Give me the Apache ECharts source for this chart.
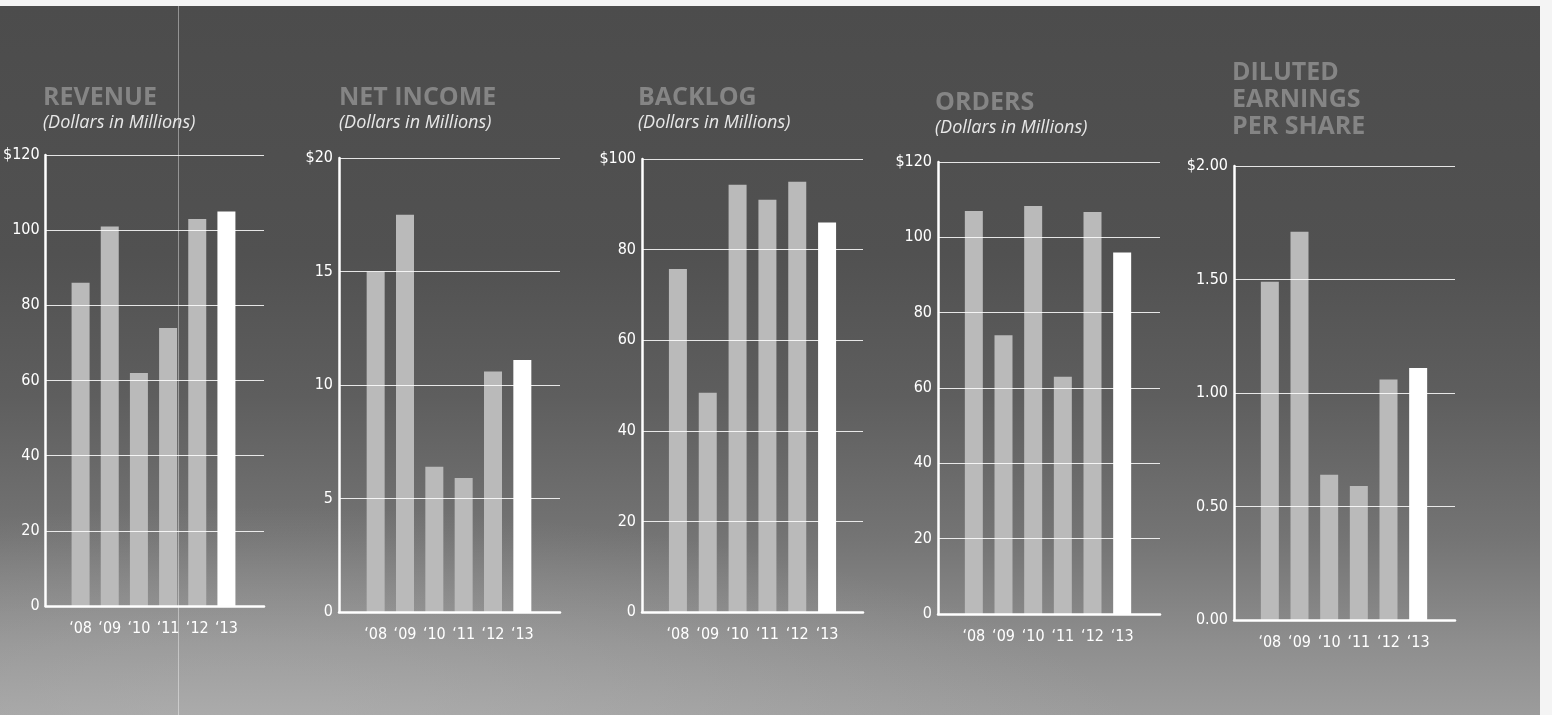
<!DOCTYPE html>
<html>
<head>
<meta charset="utf-8">
<script src="https://cdn.jsdelivr.net/npm/echarts@6/dist/echarts.min.js"></script>
<style>
  html, body { margin: 0; padding: 0; background: #f4f4f4; }
  #wrap { position: relative; width: 1552px; height: 715px; overflow: hidden; background: #f4f4f4; }
  #bg {
    position: absolute; left: 0; top: 6px; width: 1540px; height: 709px;
    background:
      radial-gradient(ellipse 900px 260px at 250px 760px, rgba(190,190,190,0.55), rgba(190,190,190,0) 100%),
      linear-gradient(180deg, #4c4c4c 0%, #515151 35%, #5e5e5e 55%, #747474 75%, #8e8e8e 90%, #9c9c9c 100%);
  }
  #streak { position: absolute; left: 178px; top: 6px; width: 1px; height: 709px; background: rgba(255,255,255,0.4); }
  #chart { position: absolute; left: 0; top: 0; width: 1552px; height: 715px; }
</style>
</head>
<body>
<div id="wrap">
  <div id="bg"></div>
  <div id="streak"></div>
  <div id="chart"></div>
</div>
<script>
// ---- data ----
const years = ['\u201808', '\u201809', '\u201810', '\u201811', '\u201812', '\u201813'];
const revenue = [86, 101, 62, 74, 103, 105];
const netIncome = [15.0, 17.5, 6.4, 5.9, 10.6, 11.1];
const backlog = [75.7, 48.4, 94.3, 91, 95, 86];
const orders = [107, 74, 108.3, 63, 106.7, 96];
const eps = [1.49, 1.71, 0.64, 0.59, 1.06, 1.11];

const revenueTicks = ['0', '20', '40', '60', '80', '100', '$120'];
const netIncomeTicks = ['0', '5', '10', '15', '$20'];
const backlogTicks = ['0', '20', '40', '60', '80', '$100'];
const ordersTicks = ['0', '20', '40', '60', '80', '100', '$120'];
const epsTicks = ['0.00', '0.50', '1.00', '1.50', '$2.00'];

const titles = ['REVENUE', 'NET INCOME', 'BACKLOG', 'ORDERS', 'DILUTED\nEARNINGS\nPER SHARE'];
const subtitle = '(Dollars in Millions)';

// ---- layout ----
const panels = [
  { data: revenue,   ticks: revenueTicks,   max: 120, interval: 20,  axisX: 44,   right: 264,  top: 155, bottom: 606, barLeft: 66,   barW: 175, titleX: 43,   titleY: 84, subY: 114, sub: true },
  { data: netIncome, ticks: netIncomeTicks, max: 20,  interval: 5,   axisX: 339,  right: 560,  top: 158, bottom: 612, barLeft: 361,  barW: 176, titleX: 339,  titleY: 84, subY: 114, sub: true },
  { data: backlog,   ticks: backlogTicks,   max: 100, interval: 20,  axisX: 642,  right: 863,  top: 159, bottom: 612, barLeft: 663,  barW: 179, titleX: 638,  titleY: 84, subY: 114, sub: true },
  { data: orders,    ticks: ordersTicks,    max: 120, interval: 20,  axisX: 938,  right: 1160, top: 162, bottom: 614, barLeft: 959,  barW: 178, titleX: 935,  titleY: 89, subY: 119, sub: true },
  { data: eps,       ticks: epsTicks,       max: 2,   interval: 0.5, axisX: 1234, right: 1455, top: 166, bottom: 620, barLeft: 1255, barW: 178, titleX: 1232, titleY: 59, subY: 0,   sub: false }
];

const labelFont = '"Liberation Sans Narrow", "Arial Narrow", "DejaVu Sans Condensed", "Roboto", sans-serif';
const grid = [], xAxis = [], yAxis = [], series = [], title = [];

panels.forEach((p, i) => {
  const h = p.bottom - p.top;
  grid.push({ left: p.axisX, top: p.top, width: p.right - p.axisX, height: h, containLabel: false });
  grid.push({ left: p.barLeft, top: p.top, width: p.barW, height: h, containLabel: false });
  const gA = 2 * i, gB = 2 * i + 1;

  xAxis.push({
    gridIndex: gA, type: 'value', min: 0, max: 1, z: 4,
    axisLine: { show: true, onZero: false, lineStyle: { color: '#ffffff', width: 2.5 } },
    axisTick: { show: false }, axisLabel: { show: false }, splitLine: { show: false }
  });
  xAxis.push({
    gridIndex: gB, type: 'category', data: years,
    axisLine: { show: false }, axisTick: { show: false },
    axisLabel: { interval: 0, color: '#ffffff', fontFamily: labelFont, fontSize: 16, margin: 15 }
  });
  yAxis.push({
    gridIndex: gA, type: 'value', min: 0, max: p.max, interval: p.interval, z: 4,
    axisLine: { show: true, lineStyle: { color: '#ffffff', width: 2.5 } },
    axisTick: { show: false },
    splitLine: { show: true, lineStyle: { color: 'rgba(255,255,255,0.85)', width: 1 } },
    axisLabel: {
      color: '#ffffff', fontFamily: labelFont, fontSize: 16, margin: 6,
      formatter: v => p.ticks[Math.round(v / p.interval)]
    }
  });
  yAxis.push({
    gridIndex: gB, type: 'value', min: 0, max: p.max, interval: p.interval, show: false
  });
  series.push({
    type: 'bar', xAxisIndex: 2 * i + 1, yAxisIndex: 2 * i + 1,
    data: p.data.map((v, k) => ({
      value: v,
      itemStyle: { color: k === p.data.length - 1 ? '#ffffff' : '#bababa' }
    })),
    barWidth: 18, z: 2, silent: true
  });
  title.push({
    text: titles[i], left: p.titleX, top: p.titleY, padding: 0,
    textStyle: { color: '#858585', fontFamily: '"Open Sans", sans-serif', fontWeight: 'bold', fontSize: 25, lineHeight: 27 }
  });
  if (p.sub) {
    title.push({
      text: subtitle, left: p.titleX, top: p.subY, padding: 0,
      textStyle: { color: '#e8e8e8', fontFamily: '"Open Sans", sans-serif', fontStyle: 'italic', fontWeight: 'normal', fontSize: 18 }
    });
  }
});

const chart = echarts.init(document.getElementById('chart'), null, { renderer: 'canvas' });
chart.setOption({
  backgroundColor: 'transparent',
  animation: false,
  title, grid, xAxis, yAxis, series
});
</script>
</body>
</html>
